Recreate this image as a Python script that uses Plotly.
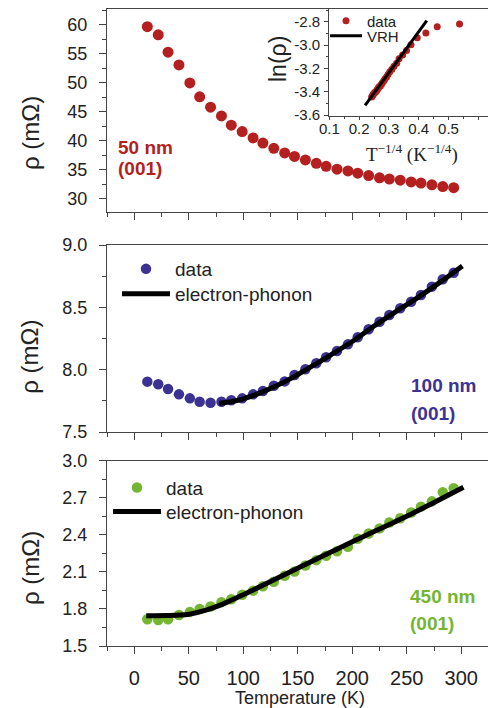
import plotly.graph_objects as go

# Temperatures (K) shared by the three films
temperature = [12, 22, 31, 41, 51, 60, 70, 80, 89, 99, 109, 118, 128, 138, 147,
               157, 167, 176, 186, 196, 205, 215, 225, 234, 244, 254, 263, 273, 283, 293]

# Resistivity (mOhm) of the 50 nm film
rho_50nm = [59.7, 58.3, 55.3, 53.1, 50.0, 47.6, 45.8, 44.3, 42.7, 41.6, 40.5, 39.6, 38.7, 37.9, 37.3,
            36.7, 36.1, 35.6, 35.1, 34.8, 34.4, 34.0, 33.6, 33.4, 33.2, 32.9, 32.7, 32.4, 32.1, 31.9]

# Resistivity (mOhm) of the 100 nm film
rho_100nm = [7.904, 7.883, 7.845, 7.802, 7.770, 7.743, 7.735, 7.743, 7.754, 7.770, 7.802, 7.829, 7.871, 7.906, 7.957,
             8.003, 8.051, 8.099, 8.150, 8.203, 8.260, 8.324, 8.385, 8.439, 8.492, 8.545, 8.599, 8.666, 8.725, 8.778]

# Resistivity (mOhm) of the 450 nm film
rho_450nm = [1.717, 1.710, 1.716, 1.751, 1.776, 1.800, 1.820, 1.855, 1.879, 1.915, 1.948, 1.983, 2.020, 2.068, 2.103,
             2.151, 2.195, 2.230, 2.267, 2.304, 2.368, 2.410, 2.452, 2.500, 2.534, 2.580, 2.628, 2.671, 2.745, 2.777]

# Electron-phonon fits
fit_100nm_T = [78, 90, 100, 120, 140, 160, 180, 200, 220, 240, 260, 280, 301]
fit_100nm_rho = [7.731, 7.745, 7.766, 7.830, 7.912, 8.012, 8.117, 8.226, 8.350, 8.466, 8.578, 8.698, 8.832]

fit_450nm_T = [11, 30, 50, 65, 80, 95, 110, 125, 140, 155, 170, 185, 200, 215, 230, 250, 275, 302]
fit_450nm_rho = [1.745, 1.746, 1.757, 1.788, 1.835, 1.895, 1.958, 2.022, 2.087, 2.152, 2.216, 2.280,
                 2.343, 2.406, 2.468, 2.550, 2.662, 2.785]

# Inset: ln(rho) against T^-1/4 for the 50 nm film
inset_x = [0.537, 0.462, 0.424, 0.395, 0.374, 0.359, 0.346, 0.334, 0.326, 0.317, 0.310, 0.303, 0.297, 0.292, 0.287,
           0.283, 0.278, 0.275, 0.271, 0.267, 0.264, 0.261, 0.258, 0.256, 0.253, 0.251, 0.248, 0.246, 0.244, 0.242]
inset_y = [-2.818, -2.842, -2.895, -2.936, -2.996, -3.045, -3.083, -3.117, -3.154, -3.180, -3.206, -3.229, -3.252,
           -3.273, -3.289, -3.305, -3.322, -3.335, -3.350, -3.358, -3.370, -3.381, -3.393, -3.399, -3.405, -3.414,
           -3.420, -3.429, -3.438, -3.445]
vrh_x = [0.220, 0.427]
vrh_y = [-3.518, -2.789]

inset_yticks = [-3.6, -3.4, -3.2, -3.0, -2.8]
inset_yticktext = ["-3.6", "-3.4", "-3.2", "-3.0", "-2.8"]
inset_xticks = [0.1, 0.2, 0.3, 0.4, 0.5, 0.6]

RED = "#B41F1F"
BLUE = "#3C3291"
GREEN = "#74B532"
AXIS = "#444444"
FONT = "Arial, Liberation Sans, sans-serif"

W, H = 488, 708
ML = 107
PW = W - ML


def px_x(px):
    return (px - ML) / PW


def px_y(py):
    return 1 - py / H


fig = go.Figure()

fig.add_trace(go.Scatter(x=temperature, y=rho_50nm, mode="markers", xaxis="x", yaxis="y",
                         marker=dict(color=RED, size=11), showlegend=False))

fig.add_trace(go.Scatter(x=temperature, y=rho_100nm, mode="markers", xaxis="x2", yaxis="y2",
                         marker=dict(color=BLUE, size=10.5), name="data", legend="legend2"))
fig.add_trace(go.Scatter(x=fit_100nm_T, y=fit_100nm_rho, mode="lines", xaxis="x2", yaxis="y2",
                         line=dict(color="black", width=5, shape="spline"), name="electron-phonon",
                         legend="legend5"))

fig.add_trace(go.Scatter(x=temperature, y=rho_450nm, mode="markers", xaxis="x3", yaxis="y3",
                         marker=dict(color=GREEN, size=10.5), name="data", legend="legend3"))
fig.add_trace(go.Scatter(x=fit_450nm_T, y=fit_450nm_rho, mode="lines", xaxis="x3", yaxis="y3",
                         line=dict(color="black", width=5, shape="spline"), name="electron-phonon",
                         legend="legend6"))

fig.add_trace(go.Scatter(x=inset_x, y=inset_y, mode="markers", xaxis="x4", yaxis="y4",
                         marker=dict(color=RED, size=7), name="data", legend="legend"))
fig.add_trace(go.Scatter(x=vrh_x, y=vrh_y, mode="lines", xaxis="x4", yaxis="y4",
                         line=dict(color="black", width=3), name="VRH", legend="legend4"))

xcommon = dict(range=[-25, 324.5], showline=True, linecolor=AXIS, linewidth=1.3, mirror=True,
               ticks="outside", ticklen=7, tickwidth=1.2, tickcolor=AXIS, tick0=0, dtick=50,
               minor=dict(ticks="outside", ticklen=4, tickwidth=1.2, tickcolor=AXIS, tick0=0, dtick=25),
               showgrid=False, zeroline=False, domain=[0, 1],
               tickfont=dict(family=FONT, size=20, color="#222"))
ycommon = dict(showline=True, linecolor=AXIS, linewidth=1.3, ticks="outside", ticklen=7, tickwidth=1.2,
               tickcolor=AXIS, showgrid=False, zeroline=False,
               tickfont=dict(family=FONT, size=18, color="#222"), ticklabelstandoff=8)

fig.update_layout(
    xaxis=dict(xcommon, anchor="y", showticklabels=False),
    xaxis2=dict(xcommon, anchor="y2", showticklabels=False),
    xaxis3=dict(xcommon, anchor="y3", ticklabelstandoff=7),
    yaxis=dict(ycommon, anchor="x", domain=[px_y(212.3), px_y(9.3)], range=[27.65, 62.71],
               dtick=5, tick0=0, minor=dict(ticks="outside", ticklen=4, tickcolor=AXIS, dtick=2.5, tick0=0)),
    yaxis2=dict(ycommon, anchor="x2", domain=[px_y(432), px_y(245)], range=[7.5, 9.0],
                dtick=0.5, tick0=7.5, tickformat=".1f",
                minor=dict(ticks="outside", ticklen=4, tickcolor=AXIS, dtick=0.25, tick0=7.5)),
    yaxis3=dict(ycommon, anchor="x3", domain=[px_y(646), px_y(460.7)], range=[1.5, 3.0],
                dtick=0.3, tick0=1.5, tickformat=".1f",
                minor=dict(ticks="outside", ticklen=4, tickcolor=AXIS, dtick=0.15, tick0=1.5)),
    xaxis4=dict(domain=[px_x(329.3), 1.0], range=[0.0998, 0.6326], anchor="y4",
                showline=True, linecolor=AXIS, linewidth=1.2, mirror=True,
                ticks="outside", ticklen=3, tickcolor=AXIS, tickvals=inset_xticks,
                minor=dict(ticks="outside", ticklen=2, tickcolor=AXIS, dtick=0.05, tick0=0.1),
                showgrid=False, zeroline=False, ticklabelstandoff=-4,
                tickfont=dict(family=FONT, size=15, color="#222")),
    yaxis4=dict(domain=[px_y(115.7), px_y(9.3)], range=[-3.606, -2.691], anchor="x4",
                showline=True, linecolor=AXIS, linewidth=1.2,
                ticks="outside", ticklen=4, tickcolor=AXIS,
                tickvals=inset_yticks, ticktext=inset_yticktext,
                minor=dict(ticks="outside", ticklen=2, tickcolor=AXIS, dtick=0.1, tick0=-3.6),
                showgrid=False, zeroline=False, ticklabelstandoff=1,
                tickfont=dict(family=FONT, size=15, color="#222")),
    width=W, height=H,
    margin=dict(l=ML, r=0, t=0, b=0, autoexpand=False),
    paper_bgcolor="white", plot_bgcolor="white",
    font=dict(family=FONT, color="#222"),
)

legend_base = dict(xanchor="left", yanchor="middle", bgcolor="rgba(0,0,0,0)", borderwidth=0,
                   tracegroupgap=0)
fig.update_layout(
    legend=dict(legend_base, x=px_x(325), y=px_y(21), itemwidth=32,
                font=dict(family=FONT, size=15, color="#222")),
    legend4=dict(legend_base, x=px_x(325), y=px_y(36), itemwidth=32,
                 font=dict(family=FONT, size=15, color="#222")),
    legend2=dict(legend_base, x=px_x(117), y=px_y(269), itemwidth=48,
                 font=dict(family=FONT, size=19, color="#222")),
    legend5=dict(legend_base, x=px_x(117), y=px_y(294), itemwidth=48,
                 font=dict(family=FONT, size=19, color="#222")),
    legend3=dict(legend_base, x=px_x(108), y=px_y(487.7), itemwidth=48,
                 font=dict(family=FONT, size=19, color="#222")),
    legend6=dict(legend_base, x=px_x(108), y=px_y(511.7), itemwidth=48,
                 font=dict(family=FONT, size=19, color="#222")),
)

annotations = []
rho_title = "\u03c1 (m\u03a9)"
for yc in (133, 356.7, 568):
    annotations.append(dict(text=rho_title, x=px_x(30), y=px_y(yc), xref="paper", yref="paper",
                            textangle=-90, showarrow=False, xanchor="center", yanchor="middle",
                            font=dict(family=FONT, size=24, color="#222")))

annotations.append(dict(text="ln(\u03c1)", x=px_x(278), y=px_y(59), xref="paper", yref="paper",
                        textangle=-90, showarrow=False, xanchor="center", yanchor="middle",
                        font=dict(family=FONT, size=23, color="#222")))
annotations.append(dict(text="T<sup>\u22121/4</sup> (K<sup>\u22121/4</sup>)", x=px_x(412), y=px_y(154),
                        xref="paper", yref="paper", showarrow=False, xanchor="center", yanchor="middle",
                        font=dict(family="Liberation Serif, Times New Roman, serif", size=19, color="#222")))
annotations.append(dict(text="Temperature (K)", x=px_x(300), y=px_y(698), xref="paper", yref="paper",
                        showarrow=False, xanchor="center", yanchor="middle",
                        font=dict(family=FONT, size=18, color="#222")))

labels = [("50 nm", RED, 116, 148), ("(001)", RED, 116, 168),
          ("100 nm", BLUE, 409, 385.7), ("(001)", BLUE, 409, 413.3),
          ("450 nm", GREEN, 408, 596.7), ("(001)", GREEN, 408, 623.3)]
for txt, col, lx, ly in labels:
    annotations.append(dict(text="<b>%s</b>" % txt, x=px_x(lx), y=px_y(ly), xref="paper", yref="paper",
                            showarrow=False, xanchor="left", yanchor="middle",
                            font=dict(family=FONT, size=19, color=col)))

fig.update_layout(annotations=annotations)

fig.write_html("out.html")
